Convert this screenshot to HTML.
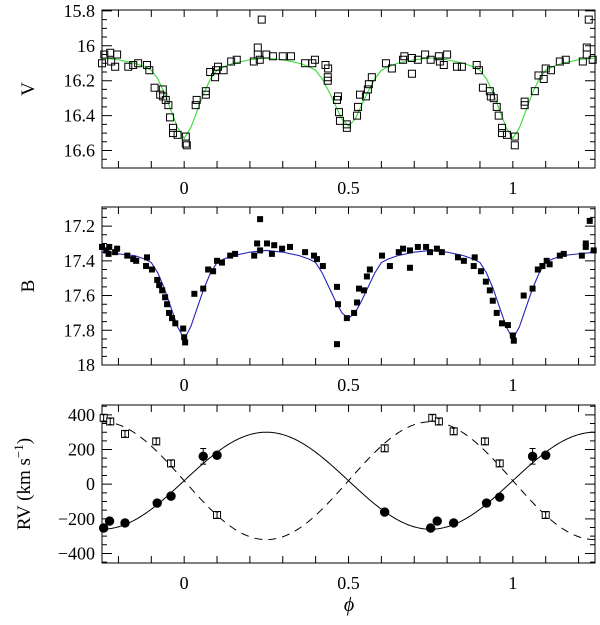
<!DOCTYPE html>
<html><head><meta charset="utf-8"><style>
html,body{margin:0;padding:0;background:#fff;}
svg text{font-family:"Liberation Serif",serif;fill:#000;}
</style></head><body>
<svg id="c" width="600" height="620" viewBox="0 0 600 620" xmlns="http://www.w3.org/2000/svg"></svg>
<script>
// ---------- data ----------
const vPhase=[-0.25,-0.243,-0.225,-0.222,-0.21,-0.204,-0.17,-0.155,-0.14,-0.113,-0.106,-0.09,-0.073,-0.064,-0.065,-0.056,-0.048,-0.043,-0.034,-0.034,-0.02,0.005,0.005,0.008,0.035,0.038,0.066,0.066,0.079,0.094,0.097,0.103,0.12,0.143,0.16,0.212,0.224,0.224,0.236,0.23,0.25,0.27,0.30,0.325,0.368,0.398,0.39,0.43,0.438,0.437,0.437,0.468,0.465,0.471,0.474,0.495,0.495,0.526,0.529,0.535,0.553,0.559,0.562,0.571,0.614,0.632,0.666,0.67,0.693,0.693,0.711,0.733,0.75,0.775,0.778,0.79,0.8,0.83,0.845,0.89,0.897,0.909,0.93,0.933,0.942,0.951,0.957,0.967,0.967,0.982,1.006,1.006,1.036,1.036,1.067,1.078,1.094,1.1,1.116,1.143,1.161,1.213,1.225,1.225,1.231,1.243];
const vMag=[16.10,16.05,16.04,16.09,16.12,16.05,16.12,16.11,16.10,16.11,16.14,16.24,16.28,16.29,16.25,16.31,16.34,16.41,16.47,16.50,16.51,16.52,16.56,16.57,16.34,16.31,16.26,16.28,16.15,16.18,16.14,16.12,16.14,16.09,16.08,16.09,16.01,16.05,15.85,16.08,16.05,16.06,16.06,16.06,16.10,16.08,16.10,16.11,16.13,16.18,16.20,16.29,16.31,16.38,16.43,16.45,16.47,16.40,16.35,16.28,16.29,16.25,16.22,16.18,16.10,16.13,16.08,16.06,16.16,16.07,16.08,16.05,16.08,16.06,16.09,16.11,16.05,16.12,16.12,16.11,16.14,16.24,16.26,16.29,16.30,16.35,16.40,16.47,16.50,16.51,16.52,16.57,16.32,16.34,16.26,16.17,16.19,16.13,16.14,16.09,16.08,16.09,16.01,16.05,15.85,16.08];
const bPhase=[-0.25,-0.237,-0.228,-0.23,-0.21,-0.204,-0.173,-0.155,-0.146,-0.113,-0.116,-0.098,-0.082,-0.076,-0.067,-0.058,-0.052,-0.046,-0.037,-0.027,-0.003,0,0.003,0.031,0.058,0.073,0.088,0.1,0.115,0.14,0.155,0.213,0.222,0.231,0.231,0.252,0.267,0.274,0.298,0.322,0.368,0.395,0.404,0.422,0.465,0.468,0.495,0.517,0.526,0.532,0.547,0.556,0.565,0.465,0.602,0.626,0.653,0.666,0.687,0.687,0.711,0.736,0.748,0.769,0.784,0.833,0.851,0.884,0.881,0.903,0.918,0.93,0.939,0.951,0.967,0.985,1.0,1.003,1.033,1.06,1.076,1.09,1.103,1.112,1.143,1.155,1.21,1.222,1.222,1.234,1.246];
const bMag=[17.32,17.34,17.32,17.36,17.35,17.33,17.37,17.39,17.40,17.38,17.43,17.45,17.51,17.54,17.57,17.61,17.65,17.70,17.73,17.76,17.79,17.84,17.87,17.59,17.56,17.45,17.46,17.40,17.41,17.37,17.36,17.37,17.30,17.16,17.34,17.30,17.36,17.31,17.33,17.32,17.35,17.37,17.39,17.43,17.55,17.65,17.73,17.70,17.64,17.56,17.57,17.49,17.45,17.88,17.37,17.43,17.35,17.33,17.34,17.44,17.32,17.32,17.35,17.33,17.35,17.38,17.40,17.38,17.43,17.46,17.52,17.57,17.63,17.70,17.76,17.77,17.83,17.86,17.60,17.56,17.45,17.43,17.40,17.42,17.37,17.36,17.37,17.32,17.30,17.17,17.34];
const modelPhase=[-0.25,-0.2,-0.15,-0.12,-0.1,-0.08,-0.06,-0.04,-0.02,0,0.02,0.04,0.06,0.08,0.1,0.12,0.15,0.2,0.25,0.3,0.35,0.38,0.4,0.42,0.44,0.46,0.48,0.5,0.52,0.54,0.56,0.58,0.6,0.62,0.65,0.7,0.75,0.8,0.85,0.88,0.9,0.92,0.94,0.96,0.98,1.0,1.02,1.04,1.06,1.08,1.1,1.12,1.15,1.2,1.25];
const vModel=[16.07,16.08,16.10,16.12,16.14,16.19,16.27,16.37,16.47,16.53,16.47,16.37,16.27,16.19,16.14,16.12,16.10,16.08,16.07,16.08,16.10,16.12,16.14,16.19,16.26,16.34,16.42,16.46,16.42,16.34,16.26,16.19,16.14,16.12,16.10,16.08,16.07,16.08,16.10,16.12,16.14,16.19,16.27,16.37,16.47,16.53,16.47,16.37,16.27,16.19,16.14,16.12,16.10,16.08,16.07];
const bModel=[17.35,17.36,17.37,17.39,17.41,17.47,17.56,17.67,17.78,17.85,17.78,17.67,17.56,17.47,17.41,17.39,17.37,17.35,17.34,17.35,17.37,17.39,17.41,17.47,17.55,17.63,17.70,17.73,17.70,17.63,17.55,17.47,17.41,17.39,17.37,17.35,17.34,17.35,17.37,17.39,17.41,17.47,17.56,17.67,17.78,17.85,17.78,17.67,17.56,17.47,17.41,17.39,17.37,17.36,17.35];
const rv1Phase=[-0.245,-0.227,-0.18,-0.082,-0.04,0.058,0.1,0.61,0.75,0.77,0.82,0.92,0.96,1.06,1.1];
const rv1Val=[-253,-213,-224,-109,-69,161,167,-161,-253,-213,-224,-109,-75,161,167];
const rv1Err=[20,15,15,15,15,45,15,15,15,15,15,15,15,45,15];
const rv2Phase=[-0.245,-0.225,-0.18,-0.085,-0.04,0.1,0.61,0.755,0.775,0.82,0.915,0.96,1.1];
const rv2Val=[383,362,290,247,120,-178,207,383,362,305,247,120,-178];
const rv2Err=[18,18,18,18,18,18,18,18,18,18,18,18,18];
const rvOrbit=[20,280,340]; // gamma, K1, K2 (km/s)
const xTickLabels=["0","0.5","1"];
const xTickVals=[0,0.5,1];
const vTicks=[15.8,16,16.2,16.4,16.6];
const bTicks=[17.2,17.4,17.6,17.8,18];
const rvTicks=[400,200,0,-200,-400];

// ---------- helpers ----------
const NS="http://www.w3.org/2000/svg";
const svg=document.getElementById('c');
function mk(tag,attrs,parent){const e=document.createElementNS(NS,tag);for(const k in attrs)e.setAttribute(k,attrs[k]);(parent||svg).appendChild(e);return e;}
const X0=102,X1=595,P0=-0.25,P1=1.25;
const xs=p=>X0+(p-P0)/(P1-P0)*(X1-X0);

function panel(name,top,bot,d0,d1,ticks,major,minor,label,labelStr){
  const g=mk('g',{});
  
  
  const ys=v=>top+(v-d0)/(d1-d0)*(bot-top);
  const fr=mk('rect',{x:X0,y:top,width:X1-X0,height:bot-top,fill:'none',stroke:'#000','stroke-width':1},g);
  
  
  let tk='';
  for(let i=-2;i<=12;i++){const p=i/10;if(p<P0||p>P1)continue;const x=xs(p);tk+=`M${x},${bot}v-7M${x},${top}v7`;}
  const lo=Math.min(d0,d1),hi=Math.max(d0,d1);
  const n0=Math.ceil(lo/minor-1e-6),n1=Math.floor(hi/minor+1e-6);
  for(let n=n0;n<=n1;n++){const v=n*minor;const y=ys(v);const isMaj=Math.abs(v/major-Math.round(v/major))<1e-6;const L=isMaj?10:5;tk+=`M${X0},${y}h${L}M${X1},${y}h-${L}`;}
  const tp=mk('path',{d:tk,stroke:'#000','stroke-width':1,fill:'none'},g);
  
  
  ticks.forEach(v=>{const t=mk('text',{x:95,y:ys(v)+6,'text-anchor':'end','font-size':18},g);t.textContent=(v<0?'\u2212':'')+Math.abs(v);
    
    });
  xTickVals.forEach((v,i)=>{const t=mk('text',{x:xs(v),y:bot+26,'text-anchor':'middle','font-size':18},g);t.textContent=xTickLabels[i];
    
    });
  const yl=mk('text',{x:0,y:0,'text-anchor':'middle','font-size':19,transform:`translate(${label},${(top+bot)/2}) rotate(-90)`},g);
  yl.innerHTML=labelStr;
  
  
  return {g,ys};
}

// ---------- V panel ----------
const pv=panel('v',10,168,15.795,16.7,vTicks,0.2,0.05,34,'V');
let d='';modelPhase.forEach((p,i)=>{d+=(i?'L':'M')+xs(p)+','+pv.ys(vModel[i]);});
const vm=mk('path',{d,stroke:'#33dd33','stroke-width':1.1,fill:'none'},pv.g);


vPhase.forEach((p,i)=>{const r=mk('rect',{x:xs(p)-3.5,y:pv.ys(vMag[i])-3.5,width:7,height:7,fill:'none',stroke:'#000','stroke-width':1},pv.g);
  
  });

// ---------- B panel ----------
const pb=panel('b',207,365,17.09,18,bTicks,0.2,0.05,34,'B');
d='';modelPhase.forEach((p,i)=>{d+=(i?'L':'M')+xs(p)+','+pb.ys(bModel[i]);});
const bm=mk('path',{d,stroke:'#2222bb','stroke-width':1.1,fill:'none'},pb.g);


bPhase.forEach((p,i)=>{const r=mk('rect',{x:xs(p)-3,y:pb.ys(bMag[i])-3,width:6,height:6,fill:'#000'},pb.g);
  
  });

// ---------- RV panel ----------
const pr=panel('rv',405,563,457,-455,rvTicks,200,50,30,'RV  (km s<tspan dy="-7" font-size="13">\u22121</tspan><tspan dy="7">)</tspan>');
let d1='',d2='';
for(let i=0;i<=300;i++){const p=P0+(P1-P0)*i/300;const s=Math.sin(2*Math.PI*p);
  d1+=(i?'L':'M')+xs(p)+','+pr.ys(rvOrbit[0]+rvOrbit[1]*s);
  d2+=(i?'L':'M')+xs(p)+','+pr.ys(rvOrbit[0]-rvOrbit[2]*s);}
const c1=mk('path',{d:d1,stroke:'#000','stroke-width':1,fill:'none'},pr.g);


const c2=mk('path',{d:d2,stroke:'#000','stroke-width':1,fill:'none','stroke-dasharray':'8,6'},pr.g);


rv2Phase.forEach((p,i)=>{const x=xs(p),y=pr.ys(rv2Val[i]),e=rv2Err[i]*0.174;
  const gg=mk('g',{},pr.g);
  
  
  mk('rect',{x:x-3.5,y:y-3.5,width:7,height:7,fill:'#fff',stroke:'#000','stroke-width':1},gg);
  mk('path',{d:`M${x},${y-e}V${y+e}M${x-2},${y-e}h4M${x-2},${y+e}h4`,stroke:'#000','stroke-width':1},gg);});
rv1Phase.forEach((p,i)=>{const x=xs(p),y=pr.ys(rv1Val[i]),e=rv1Err[i]*0.174;
  const gg=mk('g',{},pr.g);
  
  
  mk('path',{d:`M${x},${y-e}V${y+e}M${x-3},${y-e}h6M${x-3},${y+e}h6`,stroke:'#000','stroke-width':1},gg);
  mk('circle',{cx:x,cy:y,r:4.7,fill:'#000'},gg);});
const phi=mk('text',{x:349,y:611,'text-anchor':'middle','font-size':20,'font-style':'italic'});
phi.textContent='\u03d5';


</script>
</body></html>
